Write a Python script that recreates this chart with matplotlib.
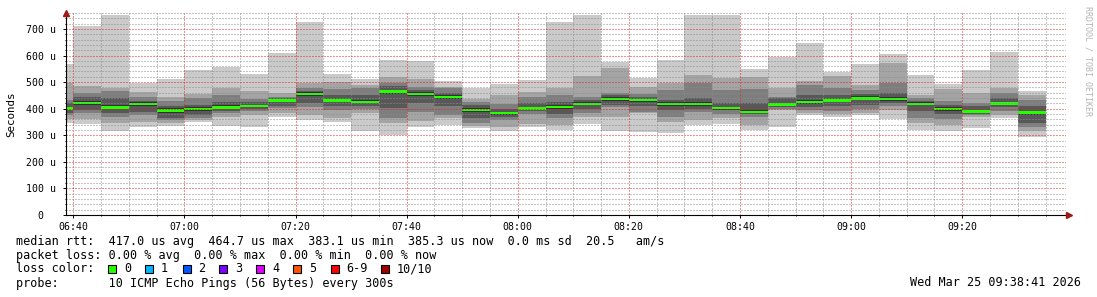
import numpy as np
import matplotlib
matplotlib.use("Agg")
import matplotlib.pyplot as plt
import matplotlib.dates as mdates
from matplotlib.patches import Rectangle
from matplotlib.ticker import MultipleLocator
import datetime as dt

# ---------------- data ----------------
step_end = ["06:40", "06:45", "06:50", "06:55", "07:00", "07:05", "07:10", "07:15", "07:20",
            "07:25", "07:30", "07:35", "07:40", "07:45", "07:50", "07:55", "08:00", "08:05",
            "08:10", "08:15", "08:20", "08:25", "08:30", "08:35", "08:40", "08:45", "08:50",
            "08:55", "09:00", "09:05", "09:10", "09:15", "09:20", "09:25", "09:30", "09:35"]

# sorted ping round-trip times per step (microseconds), rank 1 (fastest) .. 10 (slowest)
ping01 = [347, 342, 317, 332, 335, 351, 335, 332, 367, 357, 351, 317, 301, 332, 339, 326, 317, 330,
          320, 342, 317, 313, 307, 339, 342, 320, 332, 376, 368, 376, 360, 320, 317, 329, 364, 295]
ping02 = [360, 360, 347, 351, 345, 358, 370, 376, 383, 376, 364, 383, 345, 355, 364, 335, 332, 342,
          339, 370, 370, 383, 351, 357, 364, 339, 395, 385, 380, 385, 395, 345, 339, 368, 375, 316]
ping03 = [378, 385, 370, 376, 358, 364, 383, 393, 401, 408, 395, 400, 364, 389, 376, 347, 357, 380,
          364, 383, 405, 389, 370, 389, 380, 370, 400, 395, 392, 400, 410, 365, 360, 375, 390, 332]
ping04 = [385, 395, 383, 389, 364, 375, 392, 400, 410, 421, 410, 410, 401, 420, 410, 365, 370, 390,
          380, 400, 415, 410, 395, 400, 395, 380, 405, 405, 410, 415, 420, 390, 380, 380, 405, 345]
ping05 = [396, 412, 398, 410, 385, 392, 398, 405, 425, 447, 425, 420, 457, 447, 436, 388, 378, 395,
          400, 412, 430, 426, 410, 410, 396, 382, 410, 418, 425, 432, 430, 412, 392, 385, 412, 378]
ping06 = [404, 430, 412, 424, 401, 406, 412, 415, 435, 463, 437, 432, 472, 463, 452, 402, 388, 405,
          412, 424, 444, 438, 424, 424, 408, 394, 422, 432, 437, 446, 444, 424, 406, 395, 426, 392]
ping07 = [420, 443, 439, 430, 410, 414, 426, 427, 440, 468, 450, 450, 485, 470, 460, 415, 400, 420,
          425, 432, 450, 445, 432, 440, 420, 420, 440, 450, 450, 455, 460, 430, 415, 410, 440, 410]
ping08 = [433, 458, 468, 445, 430, 439, 452, 436, 445, 478, 473, 477, 498, 481, 476, 426, 418, 445,
          450, 445, 460, 455, 470, 498, 470, 473, 445, 489, 479, 470, 498, 440, 430, 420, 458, 433]
ping09 = [498, 485, 479, 464, 445, 455, 479, 468, 460, 498, 502, 489, 518, 512, 483, 437, 452, 464,
          477, 523, 554, 481, 496, 527, 517, 520, 477, 504, 523, 489, 571, 452, 473, 458, 477, 452]
ping10 = [568, 711, 752, 498, 512, 546, 558, 531, 611, 727, 531, 512, 583, 580, 504, 479, 493, 508,
          727, 752, 577, 514, 583, 752, 752, 548, 596, 649, 539, 567, 606, 527, 493, 546, 615, 468]

median = [400, 421, 405, 417, 393, 399, 405, 410, 430, 455, 431, 426, 464.7, 455, 444, 395, 383.1, 400,
          406, 418, 437, 432, 417, 417, 402, 388, 416, 425, 431, 439, 437, 418, 399, 390, 419, 385.3]

y_ticks = [0, 100, 200, 300, 400, 500, 600, 700]
y_tick_labels = ["0  ", "100 u", "200 u", "300 u", "400 u", "500 u", "600 u", "700 u"]

legend_rtt = "median rtt:  417.0 us avg  464.7 us max  383.1 us min  385.3 us now  0.0 ms sd  20.5   am/s"
legend_loss = "packet loss: 0.00 % avg  0.00 % max  0.00 % min  0.00 % now"
loss_labels = ["0", "1", "2", "3", "4", "5", "6-9", "10/10"]
loss_colors = ["#26ff00", "#00b8ff", "#0059ff", "#7e00ff", "#dd00ff", "#ff5500", "#ff0000", "#a10000"]
legend_probe = "probe:       10 ICMP Echo Pings (56 Bytes) every 300s"
stamp = "Wed Mar 25 09:38:41 2026"
day = "2026-03-25"
t_start, t_end = "06:38:41", "09:38:41"

# ---------------- figure ----------------
W, H = 1097, 297
fig = plt.figure(figsize=(W / 100, H / 100), dpi=100)
fig.patch.set_facecolor("white")

def fx(px):
    return px / W

def fy(py):
    return 1 - py / H

ax_l, ax_r, ax_t, ax_b = 66, 1066, 13, 215
ax = fig.add_axes([fx(ax_l), fy(ax_b), (ax_r - ax_l) / W, (ax_b - ax_t) / H])
ax.set_facecolor("white")

mono = "DejaVu Sans Mono"
ends = [dt.datetime.fromisoformat(f"{day} {t}") for t in step_end]
step = dt.timedelta(minutes=5)
starts = [mdates.date2num(e - step) for e in ends]
width = 5 / 1440.0

pings = [ping01, ping02, ping03, ping04, ping05, ping06, ping07, ping08, ping09, ping10]
n = len(pings)
half = n // 2
for ibot in range(half):
    itop = n - 1 - ibot
    c = int(190 / half * (half - (ibot + 1))) + 50
    col = "#%02x%02x%02x" % (c, c, c)
    lo = np.array(pings[ibot], float)
    hi = np.array(pings[itop], float)
    ax.bar(starts, hi - lo, bottom=lo, width=width, align="edge", color=col,
           linewidth=0, antialiased=False, zorder=1)

med = np.array(median, float)
sw = 4.7
ax.bar(starts, 2 * sw, bottom=med - sw, width=width, align="edge", color=loss_colors[0],
       linewidth=0, antialiased=False, zorder=2)

x0 = mdates.date2num(dt.datetime.fromisoformat(f"{day} {t_start}"))
x1 = mdates.date2num(dt.datetime.fromisoformat(f"{day} {t_end}"))
ax.set_xlim(x0, x1)
ax.set_ylim(0, 760)

# grid
ax.yaxis.set_major_locator(plt.FixedLocator(y_ticks))
ax.yaxis.set_minor_locator(MultipleLocator(20))
ax.xaxis.set_major_locator(mdates.MinuteLocator(byminute=[0, 20, 40]))
ax.xaxis.set_minor_locator(mdates.MinuteLocator(byminute=range(0, 60, 5)))
ax.xaxis.set_major_formatter(mdates.DateFormatter("%H:%M"))
ax.set_yticklabels(y_tick_labels)

ax.set_axisbelow(False)
dash = (0, (1, 2))
ax.grid(which="minor", color=(0.55, 0.55, 0.55, 0.3), linestyle=dash, linewidth=0.72, zorder=3)
ax.grid(which="major", color=(0.85, 0.15, 0.15, 0.3), linestyle=dash, linewidth=0.72, zorder=3)

for s in ["top", "right"]:
    ax.spines[s].set_visible(False)
for s in ["left", "bottom"]:
    ax.spines[s].set_color("black")
    ax.spines[s].set_linewidth(0.8)
    ax.spines[s].set_zorder(5)

ax.tick_params(axis="both", which="major", length=2, width=0.7, color="black",
               labelsize=7.1, pad=3)
ax.tick_params(axis="both", which="minor", length=1, width=0.7, color="black")
for lab in ax.get_xticklabels() + ax.get_yticklabels():
    lab.set_fontfamily(mono)
ax.tick_params(axis="y", pad=5)

# arrows
arrow_col = "#a01818"
ax.plot([0], [1.0], marker="^", color=arrow_col, markersize=4, transform=ax.transAxes,
        clip_on=False, zorder=6)
ax.plot([1.003], [0.0], marker=">", color=arrow_col, markersize=4, transform=ax.transAxes,
        clip_on=False, zorder=6)
ax.plot([1.0, 1.003], [0, 0], color="black", linewidth=0.8, transform=ax.transAxes,
        clip_on=False, zorder=5)

# y label
fig.text(fx(11), fy(114), "Seconds", rotation=90, ha="center", va="center",
         fontsize=7.8, family=mono)

# right vertical credit
fig.text(fx(1088), fy(6), "RRDTOOL / TOBI OETIKER", rotation=270, ha="center", va="top",
         fontsize=6, family=mono, color="#b4b4b4")

# legend rows
fs = 8.5
fig.text(fx(16), fy(241), legend_rtt, ha="left", va="center", fontsize=fs, family=mono)
fig.text(fx(16), fy(255), legend_loss, ha="left", va="center", fontsize=fs, family=mono)
fig.text(fx(16), fy(269), "loss color:", ha="left", va="center", fontsize=fs, family=mono)
box_x = [108, 145, 182.5, 219, 256, 293, 330.5, 381]
for bx, lab, col in zip(box_x, loss_labels, loss_colors):
    fig.patches.append(Rectangle((fx(bx), fy(273)), 8 / W, 8 / H, transform=fig.transFigure,
                                 facecolor=col, edgecolor="black", linewidth=0.8))
    fig.text(fx(bx + 16), fy(269), lab, ha="left", va="center", fontsize=fs, family=mono)
fig.text(fx(16), fy(283), legend_probe, ha="left", va="center", fontsize=fs, family=mono)
fig.text(fx(1081), fy(283), stamp, ha="right", va="center", fontsize=fs, family=mono)

fig.savefig("out.png", dpi=100, facecolor="white")
